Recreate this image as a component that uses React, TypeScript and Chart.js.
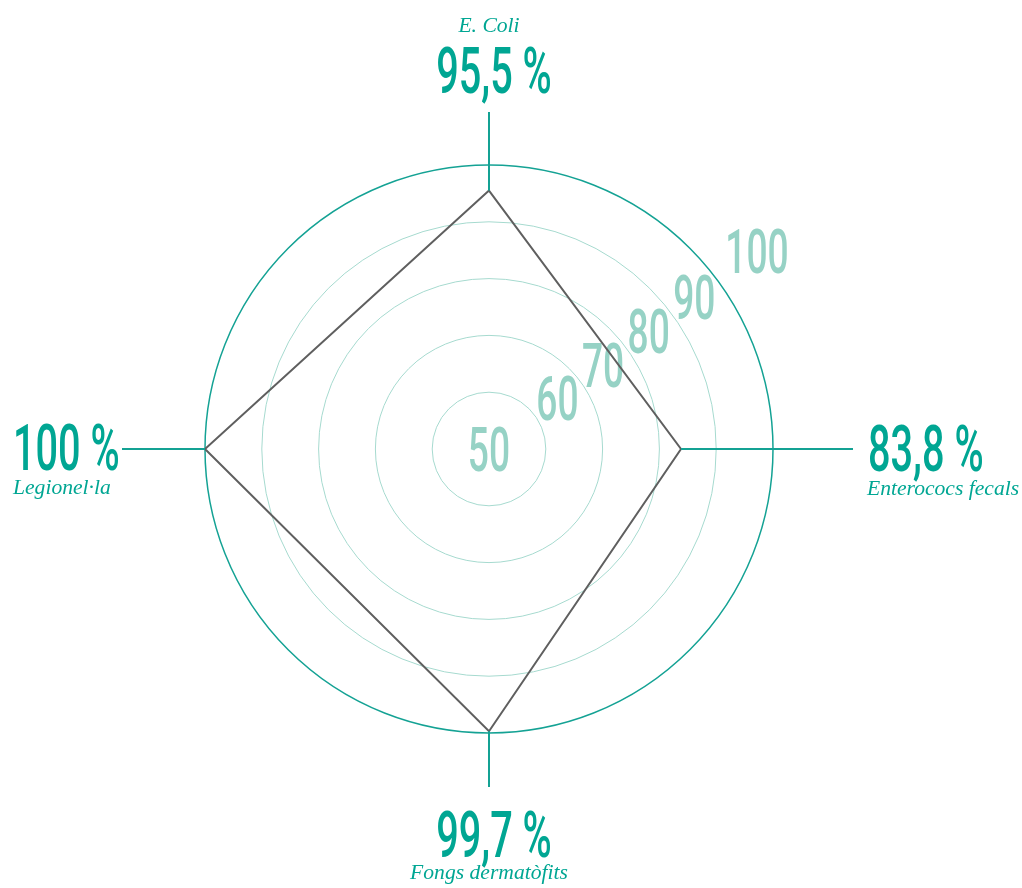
import React, { useEffect, useRef } from 'react';
import { Chart, registerables } from 'chart.js';
Chart.register(...registerables);

// ---- data ----
const categories = ['E. Coli', 'Enterococs fecals', 'Fongs dermatòfits', 'Legionel·la'];
const values = [95.5, 83.8, 99.7, 100];
const tickValues = [50, 60, 70, 80, 90, 100];
const scaleMin = 50;
const scaleMax = 100;
const scaleStep = 10;

// ---- style ----
const TEAL = '#00a693';
const TEAL_LINE = '#14a294';
const TICK_COLOR = '#96d2c5';
const RING_LIGHT = '#a6dacf';
const GREY = '#5f5f5f';
const NUM_FONT = '500 64px Roboto';
const TICK_FONT = '500 62px Roboto';
const NAME_FONT = 'italic 20px "Liberation Serif", "DejaVu Serif", serif';
const NUM_SX = 0.62;
const TICK_SX = 0.6;
const NAME_SX = 1.08;

function fmt(v: number): string {
  return String(v).replace('.', ',') + ' %';
}

function drawText(ctx: CanvasRenderingContext2D, text: string, x: number, y: number, font: string, color: string, align: CanvasTextAlign, sx: number) {
  ctx.save();
  ctx.translate(x, y);
  ctx.scale(sx, 1);
  ctx.font = font;
  ctx.fillStyle = color;
  ctx.textAlign = align;
  ctx.textBaseline = 'alphabetic';
  ctx.fillText(text, 0, 0);
  ctx.restore();
}

// per-axis label layout (top, right, bottom, left)
const labelLayout = [
  { line: 337, numDist: 356, numDx: 5, numDy: 0, numAlign: 'center', nameDist: 417, nameDx: 0, nameDy: 0, nameAlign: 'center' },
  { line: 364, numDist: 379, numDx: 0, numDy: 22, numAlign: 'left', nameDist: 378, nameDx: 0, nameDy: 46, nameAlign: 'left' },
  { line: 338, numDist: 408, numDx: 5, numDy: 0, numAlign: 'center', nameDist: 430, nameDx: 0, nameDy: 0, nameAlign: 'center' },
  { line: 367, numDist: 476, numDx: 0, numDy: 21, numAlign: 'left', nameDist: 476, nameDx: 0, nameDy: 45, nameAlign: 'left' },
];

const tickPlugin = {
  id: 'tickLabels',
  beforeDatasetsDraw(chart: any) {
    const scale = chart.scales.r;
    const ctx: CanvasRenderingContext2D = chart.ctx;
    const angle = (53.5 * Math.PI) / 180;
    tickValues.forEach((v) => {
      const r = scale.getDistanceFromCenterForValue(v);
      ctx.save();
      ctx.font = TICK_FONT;
      const w = ctx.measureText(String(v)).width * TICK_SX;
      ctx.restore();
      const d = r > 0 ? r + (w - 14) : 0;
      const cx = scale.xCenter + d * Math.sin(angle);
      const cy = scale.yCenter - d * Math.cos(angle);
      drawText(ctx, String(v), cx, cy + 0.711 * 62 / 2, TICK_FONT, TICK_COLOR, 'center', TICK_SX);
    });
  },
};

const axisPlugin = {
  id: 'axisLabels',
  afterDatasetsDraw(chart: any) {
    const scale = chart.scales.r;
    const ctx: CanvasRenderingContext2D = chart.ctx;
    values.forEach((v, i) => {
      const L = labelLayout[i];
      const p0 = scale.getPointPositionForValue(i, v);
      const p1 = scale.getPointPosition(i, L.line);
      ctx.save();
      ctx.strokeStyle = TEAL_LINE;
      ctx.lineWidth = 2;
      ctx.beginPath();
      ctx.moveTo(p0.x, p0.y);
      ctx.lineTo(p1.x, p1.y);
      ctx.stroke();
      ctx.restore();
      const pn = scale.getPointPosition(i, L.numDist);
      drawText(ctx, fmt(v), pn.x + L.numDx, pn.y + L.numDy, NUM_FONT, TEAL, L.numAlign as CanvasTextAlign, NUM_SX);
      const pl = scale.getPointPosition(i, L.nameDist);
      drawText(ctx, categories[i], pl.x + L.nameDx, pl.y + L.nameDy, NAME_FONT, TEAL, L.nameAlign as CanvasTextAlign, NAME_SX);
    });
  },
};

export default function App() {
  const ref = useRef<HTMLCanvasElement>(null);
  useEffect(() => {
    if (!ref.current) return;
    const chart = new Chart(ref.current, {
      type: 'radar',
      data: {
        labels: categories,
        datasets: [
          {
            data: values,
            borderColor: GREY,
            borderWidth: 2,
            borderJoinStyle: 'miter',
            fill: false,
            backgroundColor: 'transparent',
            pointRadius: 0,
            pointHoverRadius: 0,
            tension: 0,
            clip: false,
          } as any,
        ],
      },
      options: {
        animation: false,
        responsive: false,
        events: [],
        layout: { padding: { left: 205, right: 249, top: 165, bottom: 155 } },
        plugins: { legend: { display: false }, tooltip: { enabled: false } },
        scales: {
          r: {
            min: scaleMin,
            max: scaleMax,
            ticks: { display: false, stepSize: scaleStep },
            pointLabels: { display: false },
            angleLines: { display: false },
            grid: {
              circular: true,
              color: (c: any) => (c.tick && c.tick.value === scaleMax ? TEAL_LINE : RING_LIGHT),
              lineWidth: (c: any) => (c.tick && c.tick.value === scaleMax ? 1.5 : 1),
            },
          },
        },
      },
      plugins: [tickPlugin, axisPlugin],
    });
    return () => chart.destroy();
  }, []);
  return (
    <div style={{ position: 'fixed', left: 0, top: 0, width: 1022, height: 888, background: '#fff' }}>
      <canvas ref={ref} width={1022} height={888} style={{ display: 'block', width: 1022, height: 888 }} />
    </div>
  );
}
